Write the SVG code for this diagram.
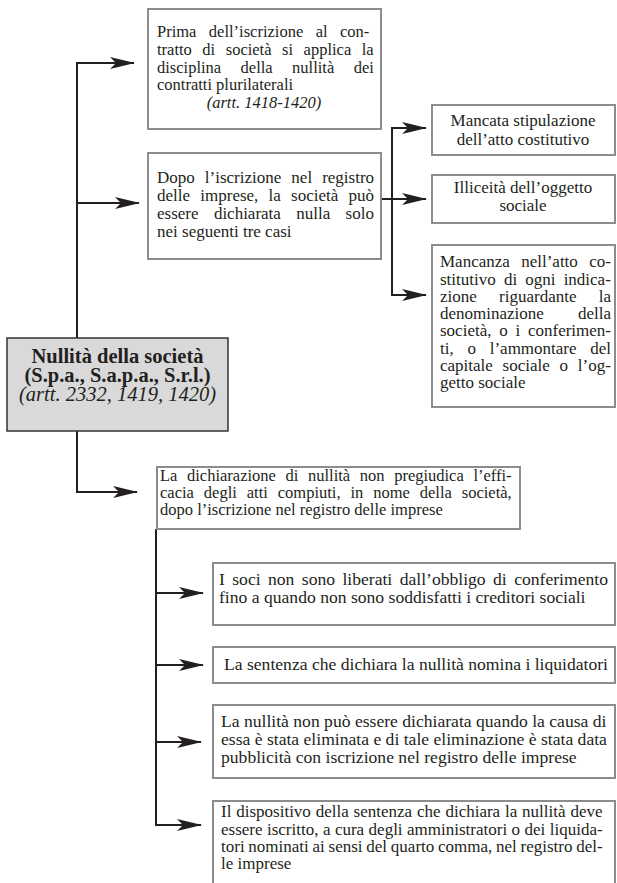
<svg xmlns="http://www.w3.org/2000/svg" width="617" height="883" viewBox="0 0 617 883">
<defs>
<style>
.box{fill:#fff;stroke:#8c8c8c;stroke-width:2}
.main{fill:#d9d9d9;stroke:#333;stroke-width:1.5}
.t{font-family:"Liberation Serif","Times New Roman",serif;fill:#231f20}
.s16{font-size:16.5px}
.s17{font-size:17px}
.s18{font-size:17.6px}
.b{font-weight:bold;font-size:20.5px}
.i{font-style:italic}
.c{text-anchor:middle}
.ln{fill:none;stroke:#231f20;stroke-width:2}
</style>
<marker id="ah" markerUnits="userSpaceOnUse" markerWidth="25" markerHeight="12" refX="24" refY="6" orient="auto">
<path d="M0,0 L25,6 L0,12 L6,6 Z" fill="#231f20"/>
</marker>
</defs>
<rect width="617" height="883" fill="#fff"/>
<g id="connectors">
<path class="ln" d="M77,338 V63 H134" marker-end="url(#ah)"/>
<path class="ln" d="M77,203 H139" marker-end="url(#ah)"/>
<path class="ln" d="M77,431 V492 H137" marker-end="url(#ah)"/>
<path class="ln" d="M381,199 H392"/>
<path class="ln" d="M392,199 V128 H426" marker-end="url(#ah)"/>
<path class="ln" d="M392,199 H426" marker-end="url(#ah)"/>
<path class="ln" d="M392,199 V295 H426" marker-end="url(#ah)"/>
<path class="ln" d="M156,529 V825 H201" marker-end="url(#ah)"/>
<path class="ln" d="M156,593 H203" marker-end="url(#ah)"/>
<path class="ln" d="M156,665 H203" marker-end="url(#ah)"/>
<path class="ln" d="M156,742 H201" marker-end="url(#ah)"/>
</g>
<g id="n-main">
<rect class="main" x="7" y="338" width="221" height="93"/>
<text class="t b c" x="117.5" y="362.5">Nullità della società</text>
<text class="t b c" x="117.5" y="381.5">(S.p.a., S.a.p.a., S.r.l.)</text>
<text class="t c i" x="117.5" y="400.5" style="font-size:20.5px">(artt. 2332, 1419, 1420)</text>
</g>
<g id="n-prima">
<rect class="box" x="148" y="9" width="233" height="120"/>
<text class="t s16" x="157" y="37" style="word-spacing:8.3px">Prima dell’iscrizione al con-</text>
<text class="t s16" x="157" y="55" style="word-spacing:6.4px">tratto di società si applica la</text>
<text class="t s16" x="157" y="72.5" style="word-spacing:15.3px">disciplina della nullità dei</text>
<text class="t s16" x="157" y="90">contratti plurilaterali</text>
<text class="t s16 i c" x="264" y="108">(artt. 1418-1420)</text>
</g>
<g id="n-dopo">
<rect class="box" x="148" y="153" width="233" height="106"/>
<text class="t s17" x="157" y="183" style="word-spacing:5.8px">Dopo l’iscrizione nel registro</text>
<text class="t s17" x="157" y="201" style="word-spacing:6px">delle imprese, la società può</text>
<text class="t s17" x="157" y="219" style="word-spacing:11.1px">essere dichiarata nulla solo</text>
<text class="t s17" x="157" y="237">nei seguenti tre casi</text>
</g>
<g id="n-mancata">
<rect class="box" x="432" y="105" width="183" height="50"/>
<text class="t s17 c" x="523" y="126">Mancata stipulazione</text>
<text class="t s17 c" x="523" y="145">dell’atto costitutivo</text>
</g>
<g id="n-illiceita">
<rect class="box" x="432" y="175" width="183" height="48"/>
<text class="t s17 c" x="523" y="193">Illiceità dell’oggetto</text>
<text class="t s17 c" x="523" y="211">sociale</text>
</g>
<g id="n-mancanza">
<rect class="box" x="432" y="245" width="183" height="162"/>
<text class="t s17" x="440" y="267" style="word-spacing:7.1px">Mancanza nell’atto co-</text>
<text class="t s17" x="440" y="284.5" style="word-spacing:3.9px">stitutivo di ogni indica-</text>
<text class="t s17" x="440" y="301.5" style="word-spacing:18px">zione riguardante la</text>
<text class="t s17" x="440" y="319" style="word-spacing:29.8px">denominazione della</text>
<text class="t s17" x="440" y="336" style="word-spacing:3.5px">società, o i conferimen-</text>
<text class="t s17" x="440" y="353.5" style="word-spacing:9.5px">ti, o l’ammontare del</text>
<text class="t s17" x="440" y="371" style="word-spacing:5.5px">capitale sociale o l’og-</text>
<text class="t s17" x="440" y="388">getto sociale</text>
</g>
<g id="n-dichiarazione">
<rect class="box" x="157" y="467" width="363" height="62"/>
<text class="t s16" x="160" y="481" style="word-spacing:5.5px">La dichiarazione di nullità non pregiudica l’effi-</text>
<text class="t s16" x="160" y="498" style="word-spacing:5.8px">cacia degli atti compiuti, in nome della società,</text>
<text class="t s16" x="160" y="515">dopo l’iscrizione nel registro delle imprese</text>
</g>
<g id="n-soci">
<rect class="box" x="213" y="563" width="402" height="62"/>
<text class="t s18" x="219" y="585" style="word-spacing:3px">I soci non sono liberati dall’obbligo di conferimento</text>
<text class="t s18" x="219" y="603">fino a quando non sono soddisfatti i creditori sociali</text>
</g>
<g id="n-sentenza">
<rect class="box" x="213" y="647" width="402" height="36"/>
<text class="t s18" x="224" y="670">La sentenza che dichiara la nullità nomina i liquidatori</text>
</g>
<g id="n-causa">
<rect class="box" x="213" y="705" width="402" height="73"/>
<text class="t s18" x="221" y="727">La nullità non può essere dichiarata quando la causa di</text>
<text class="t s18" x="221" y="745">essa è stata eliminata e di tale eliminazione è stata data</text>
<text class="t s18" x="221" y="763">pubblicità con iscrizione nel registro delle imprese</text>
</g>
<g id="n-dispositivo">
<rect class="box" x="213" y="801" width="402" height="100"/>
<text class="t s17" x="221" y="817" style="word-spacing:0.6px">Il dispositivo della sentenza che dichiara la nullità deve</text>
<text class="t s17" x="221" y="834.5" style="word-spacing:0.2px">essere iscritto, a cura degli amministratori o dei liquida-</text>
<text class="t s17" x="221" y="852" style="word-spacing:-0.5px">tori nominati ai sensi del quarto comma, nel registro del-</text>
<text class="t s17" x="221" y="869">le imprese</text>
</g>
</svg>
